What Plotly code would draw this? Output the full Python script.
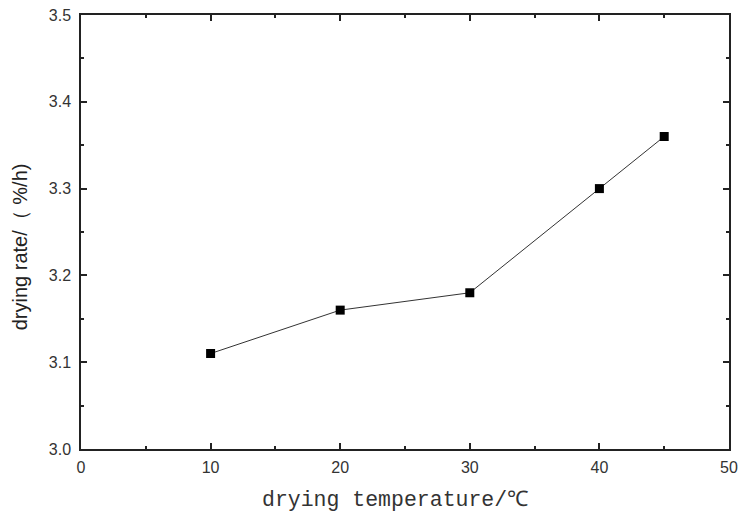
import plotly.graph_objects as go

temperature = [10, 20, 30, 40, 45]
drying_rate = [3.11, 3.16, 3.18, 3.30, 3.36]
x_ticks = [0, 10, 20, 30, 40, 50]
y_ticks = [3.0, 3.1, 3.2, 3.3, 3.4, 3.5]

fig = go.Figure()
fig.add_trace(go.Scatter(
    x=temperature, y=drying_rate, mode="lines+markers",
    line=dict(color="#333333", width=1),
    marker=dict(symbol="square", size=9, color="black"),
    showlegend=False,
))

axis_common = dict(
    showline=True, linecolor="#222222", linewidth=1.5, mirror="allticks",
    ticks="inside", ticklen=6, tickwidth=1.5, tickcolor="#222222",
    showgrid=False, zeroline=False, automargin=False,
    tickfont=dict(family="Liberation Sans, Arial", size=16, color="#333333"),
)

fig.update_xaxes(range=[0, 50], tickvals=x_ticks, ticktext=[str(v) for v in x_ticks],
                 minor=dict(ticks="inside", ticklen=3, dtick=5, tick0=0, tickcolor="#222222", tickwidth=1.5),
                 ticklabelstandoff=3, **axis_common)
fig.update_yaxes(range=[3.0, 3.5], tickvals=y_ticks, ticktext=[f"{v:.1f}" for v in y_ticks],
                 minor=dict(ticks="inside", ticklen=3, dtick=0.05, tick0=3.0, tickcolor="#222222", tickwidth=1.5),
                 ticklabelstandoff=5, **axis_common)

fig.add_annotation(text="drying temperature/℃", xref="paper", yref="paper",
                   x=0.485, y=-0.1175, xanchor="center", yanchor="middle", showarrow=False,
                   font=dict(family="Liberation Mono, Courier New", size=21.5, color="#333333"))
fig.add_annotation(text="drying rate/（ %/h)", xref="paper", yref="paper",
                   x=-0.094, y=0.465, xanchor="center", yanchor="middle", textangle=-90, showarrow=False,
                   font=dict(family="Liberation Sans, Arial", size=20, color="#222222"))

fig.update_layout(
    width=741, height=517,
    margin=dict(l=81, r=12, t=15, b=68),
    plot_bgcolor="white", paper_bgcolor="white",
)
fig.write_html("out.html")
